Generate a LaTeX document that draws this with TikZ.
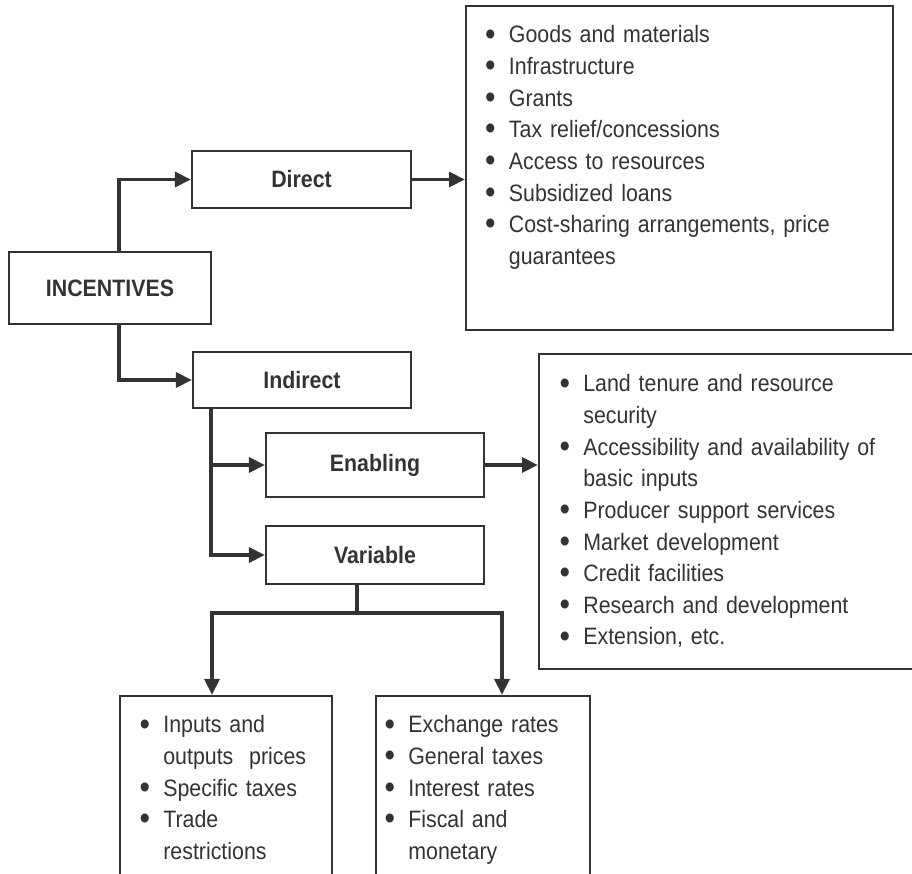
\documentclass[tikz,border=0pt]{standalone}
\usepackage{fontspec}
\setmainfont{Liberation Sans}[FakeStretch=0.9]
\usetikzlibrary{arrows.meta}
\definecolor{ink}{HTML}{333333}
\newcommand\bitem[1]{\par\hangindent=14pt\hangafter=1\noindent\makebox[14pt][l]{\hspace{0.5pt}\raisebox{-1.2pt}{\scalebox{1.4}{\textbullet}}}#1}
\tikzset{
  box/.style={draw=ink, line width=1.4pt, inner sep=0pt},
  lbl/.style={text=ink, font=\fontsize{13.5}{16}\selectfont\bfseries},
  blist/.style={text=ink, anchor=north west, inner sep=0pt, text width=9cm, align=left,
                font=\fontsize{13.5}{18}\selectfont},
  line/.style={draw=ink, line width=2pt},
  conn/.style={line, -{Triangle[length=9pt,width=8.5pt]}},
}
\begin{document}
\begin{tikzpicture}[x=0.02cm,y=-0.02cm]
\useasboundingbox (0,0) rectangle (912,874);
\clip (0,0) rectangle (912,874);
% boxes
\node[box, minimum width=8.54cm, minimum height=6.48cm] (topbox) at (679.5,168) {};
\node[box, lbl, minimum width=4.38cm, minimum height=1.14cm] (direct) at (301.5,179.5) {Direct};
\node[box, lbl, minimum width=4.04cm, minimum height=1.44cm] (incent) at (110,288) {INCENTIVES};
\node[box, lbl, minimum width=4.36cm, minimum height=1.12cm] (indirect) at (302,380) {Indirect};
\node[box, lbl, minimum width=4.36cm, minimum height=1.28cm] (enabling) at (375,465) {Enabling};
\node[box, lbl, minimum width=4.36cm, minimum height=1.16cm] (variable) at (375,555) {Variable};
\node[box, minimum width=7.82cm, minimum height=6.30cm] (enabbox) at (734.5,511.5) {};
\node[box, minimum width=4.24cm, minimum height=4.08cm] (leftbox) at (226,798) {};
\node[box, minimum width=4.28cm, minimum height=4.08cm] (rightbox) at (483,798) {};
% lists
\node[blist] (toplist) at (484,11) {%
\bitem{Goods and materials}
\bitem{Infrastructure}
\bitem{Grants}
\bitem{Tax relief/concessions}
\bitem{Access to resources}
\bitem{Subsidized loans}
\bitem{Cost-sharing arrangements, price\newline guarantees}\par};
\node[blist] (enablist) at (558.4,360) {%
\bitem{Land tenure and resource\newline security}
\bitem{Accessibility and availability of\newline basic inputs}
\bitem{Producer support services}
\bitem{Market development}
\bitem{Credit facilities}
\bitem{Research and development}
\bitem{Extension, etc.}\par};
\node[blist] (leftlist) at (138.4,701) {%
\bitem{Inputs and\newline outputs\ \ prices}
\bitem{Specific taxes}
\bitem{Trade\newline restrictions}\par};
\node[blist] (rightlist) at (383.4,701) {%
\bitem{Exchange rates}
\bitem{General taxes}
\bitem{Interest rates}
\bitem{Fiscal and\newline monetary}\par};
% helper coordinates
\coordinate (x1) at (119,0);
\coordinate (x2) at (211,0);
\coordinate (split) at (357,613);
\coordinate (xa) at (212,0);
\coordinate (xb) at (502,0);
% connectors
\draw[conn] (incent.north -| x1) |- (direct.west);
\draw[conn] (incent.south -| x1) |- (indirect.west);
\draw[conn] (direct.east) -- (direct.east -| topbox.west);
\draw[conn] (indirect.south -| x2) |- (enabling.west);
\draw[conn] (indirect.south -| x2) |- (variable.west);
\draw[conn] (enabling.east) -- (enabling.east -| enabbox.west);
\draw[line] (variable.south -| split) -- (split);
\draw[conn] (split) -| (leftbox.north -| xa);
\draw[conn] (split) -| (rightbox.north -| xb);
\end{tikzpicture}
\end{document}
